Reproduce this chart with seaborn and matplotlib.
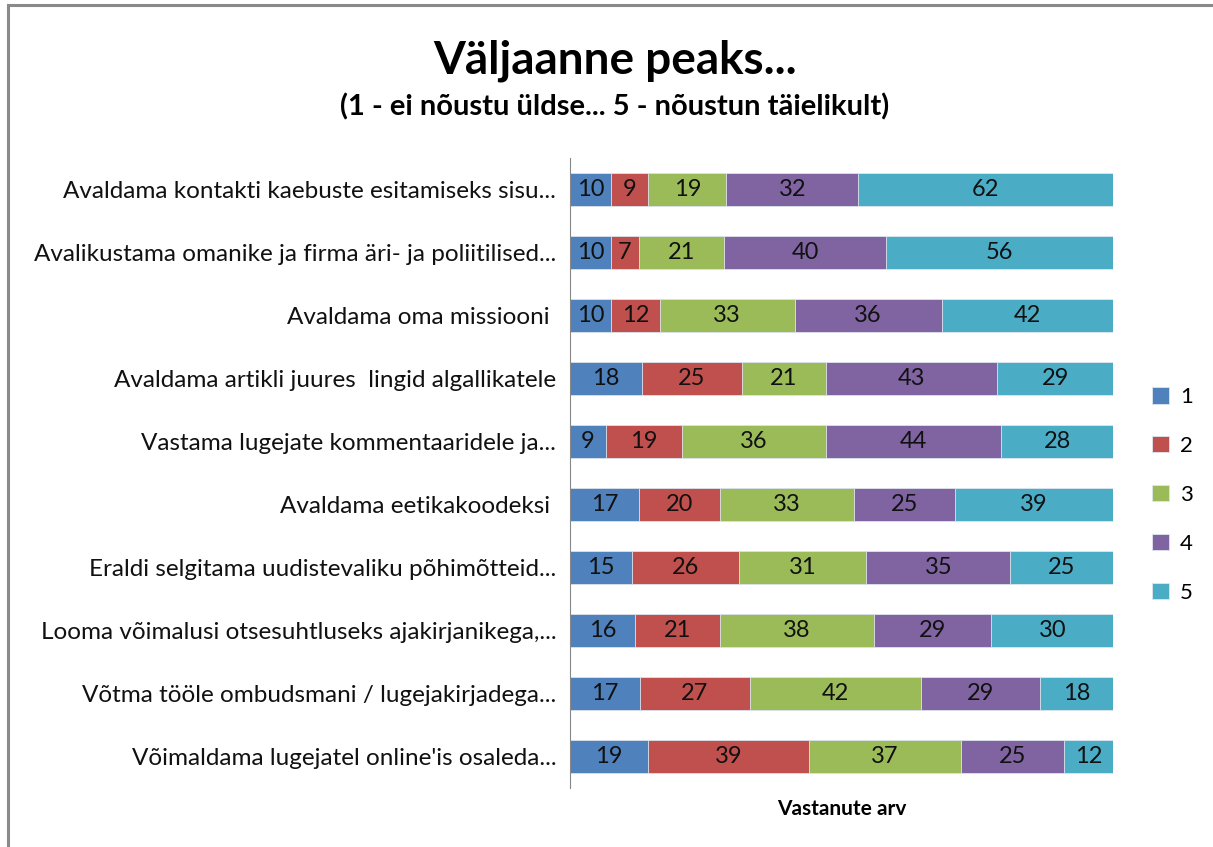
import numpy as np
import pandas as pd
import matplotlib
matplotlib.use("Agg")
import matplotlib.pyplot as plt
import seaborn as sns
from matplotlib.patches import Rectangle

# data (answer counts per level)
statements = [
    "Avaldama kontakti kaebuste esitamiseks sisu...",
    "Avalikustama omanike ja firma äri- ja poliitilised...",
    "Avaldama oma missiooni ",
    "Avaldama artikli juures  lingid algallikatele",
    "Vastama lugejate kommentaaridele ja...",
    "Avaldama eetikakoodeksi ",
    "Eraldi selgitama uudistevaliku põhimõtteid...",
    "Looma võimalusi otsesuhtluseks ajakirjanikega,...",
    "Võtma tööle ombudsmani / lugejakirjadega...",
    "Võimaldama lugejatel online'is osaleda...",
]
levels = ["1", "2", "3", "4", "5"]
v1 = [10, 10, 10, 18, 9, 17, 15, 16, 17, 19]
v2 = [9, 7, 12, 25, 19, 20, 26, 21, 27, 39]
v3 = [19, 21, 33, 21, 36, 33, 31, 38, 42, 37]
v4 = [32, 40, 36, 43, 44, 25, 35, 29, 29, 25]
v5 = [62, 56, 42, 29, 28, 39, 25, 30, 18, 12]
colors = ["#4F81BD", "#C0504D", "#9BBB59", "#8064A2", "#4BACC6"]

sns.set_style("white")
plt.rcParams["font.family"] = ["Lato", "DejaVu Sans"]
plt.rcParams["text.color"] = "black"

counts = pd.DataFrame({"1": v1, "2": v2, "3": v3, "4": v4, "5": v5}, index=statements)
share = counts.div(counts.sum(axis=1), axis=0) * 100
cum = share.cumsum(axis=1)
starts = cum - share

fig = plt.figure(figsize=(12.13, 8.47), dpi=100)
ax = fig.add_axes([0.47, 0.0697, 0.4476, 0.744])

# stacked bars: draw cumulative totals from the widest down
for lvl, col in reversed(list(zip(levels, colors))):
    df = pd.DataFrame({"stmt": statements, "val": cum[lvl].values})
    sns.barplot(data=df, x="val", y="stmt", orient="h", color=col,
                width=0.52, edgecolor="#dfe6ee", linewidth=0.6, ax=ax,
                label=lvl, saturation=1)

for lvl in levels:
    for i, stmt in enumerate(statements):
        ax.text(starts.loc[stmt, lvl] + share.loc[stmt, lvl] / 2, i,
                str(counts.loc[stmt, lvl]), ha="center", va="center",
                fontsize=17, color="#111111")

ax.set_xlim(0, 100)
ax.set_ylim(9.5, -0.5)
ax.set_xticks([])
ax.set_ylabel("")
ax.set_xlabel("Vastanute arv", fontsize=15, fontweight="bold", labelpad=8,
              color="black")
ax.tick_params(axis="y", length=0, labelsize=17.5, pad=10, labelcolor="#111111")
for s in ["top", "right", "bottom"]:
    ax.spines[s].set_visible(False)
ax.spines["left"].set_color("#888888")

handles, labels = ax.get_legend_handles_labels()
order = sorted(range(len(labels)), key=lambda k: labels[k])
ax.legend([handles[k] for k in order], [labels[k] for k in order],
          loc="center left", bbox_to_anchor=(1.035, 0.465), frameon=False,
          fontsize=16, handlelength=0.75, handleheight=0.75,
          labelspacing=1.3, handletextpad=0.5)

fig.text(0.507, 0.928, "Väljaanne peaks...", ha="center", va="center",
         fontsize=33, fontweight="bold", color="black")
fig.text(0.507, 0.874, "(1 - ei nõustu üldse... 5 - nõustun täielikult)",
         ha="center", va="center", fontsize=21, fontweight="bold", color="black")

fig.patches.append(Rectangle((8 / 1213, -0.1), 1.2, 1 - 5 / 847 + 0.1,
                             transform=fig.transFigure, fill=False,
                             edgecolor="#8a8a8a", linewidth=2.2))

fig.savefig("out.png", dpi=100)
